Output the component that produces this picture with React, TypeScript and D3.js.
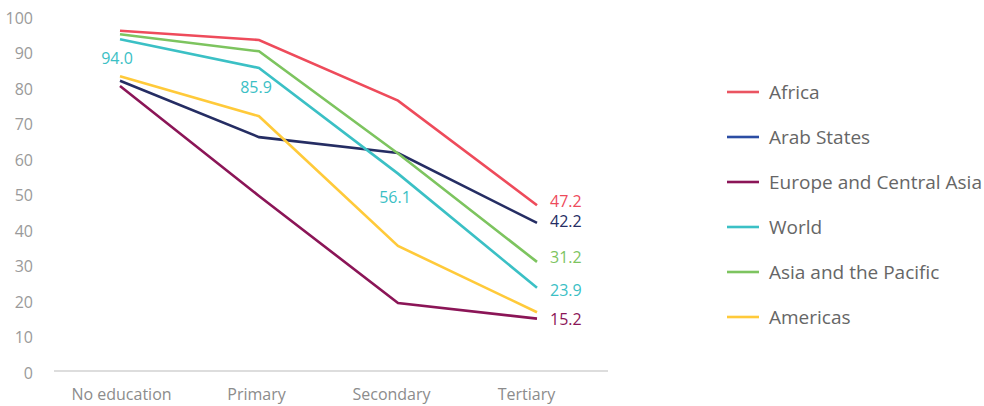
import React from "react";
import * as d3 from "d3";

// Education levels along the x axis
const levels = ["No education", "Primary", "Secondary", "Tertiary"];

// Share (%) per region at each education level
const africa = [96.4, 93.8, 76.7, 47.2];
const arabStates = [82.3, 66.4, 61.9, 42.2];
const europeCentralAsia = [80.8, 49.8, 19.6, 15.2];
const world = [94.0, 85.9, 56.1, 23.9];
const asiaPacific = [95.4, 90.6, 61.8, 31.2];
const americas = [83.6, 72.3, 35.7, 17.0];

const yTicks = [0, 10, 20, 30, 40, 50, 60, 70, 80, 90, 100];

type Series = {
  name: string;
  values: number[];
  line: string;
  legend: string;
  endLabel: boolean;
  endNudge: number;
};

const series: Series[] = [
  { name: "Africa", values: africa, line: "#EE4B5B", legend: "#EA5461", endLabel: true, endNudge: -4.5 },
  { name: "Arab States", values: arabStates, line: "#252D63", legend: "#2B4DA3", endLabel: true, endNudge: -1.5 },
  { name: "Europe and Central Asia", values: europeCentralAsia, line: "#8B1557", legend: "#8B1557", endLabel: true, endNudge: 0 },
  { name: "World", values: world, line: "#3BC0C5", legend: "#3BC0C5", endLabel: true, endNudge: 2 },
  { name: "Asia and the Pacific", values: asiaPacific, line: "#7DC45F", legend: "#7DC45F", endLabel: true, endNudge: -5 },
  { name: "Americas", values: americas, line: "#FFCA3A", legend: "#FFCA3A", endLabel: false, endNudge: 0 },
];

const W = 984;
const H = 406;
const FONT = "'Open Sans', 'Noto Sans', sans-serif";

export default function App() {
  const y = d3.scaleLinear().domain([0, 100]).range([372.5, 18]);
  const x = d3.scalePoint<string>().domain(levels).range([120, 537]);
  const xLabel = d3.scaleBand<string>().domain(levels).range([54, 594]);

  const line = d3
    .line<number>()
    .x((_, i) => x(levels[i]) as number)
    .y((v) => y(v));

  const worldSeries = series.find((s) => s.name === "World")!;

  return (
    <div style={{ position: "fixed", left: 0, top: 0, width: W, height: H, background: "#fff" }}>
      <svg width={W} height={H} style={{ display: "block", fontFamily: FONT }}>
        {/* y tick labels */}
        {yTicks.map((t) => (
          <text
            key={t}
            x={33}
            y={y(t)}
            textAnchor="end"
            dominantBaseline="central"
            fontSize={16}
            fill="#9a9a9a"
          >
            {t}
          </text>
        ))}

        {/* baseline */}
        <line x1={54} x2={608} y1={371} y2={371} stroke="#d2d2d2" strokeWidth={1.6} />

        {/* category labels */}
        {levels.map((c) => (
          <text
            key={c}
            x={(xLabel(c) as number) + xLabel.bandwidth() / 2}
            y={394}
            textAnchor="middle"
            dominantBaseline="central"
            fontSize={16}
            fill="#8c8c8c"
          >
            {c}
          </text>
        ))}

        {/* series lines */}
        {series.map((s) => (
          <path
            key={s.name}
            d={line(s.values) as string}
            fill="none"
            stroke={s.line}
            strokeWidth={2.6}
            strokeLinejoin="miter"
          />
        ))}

        {/* World labels at the first three levels */}
        {worldSeries.values.slice(0, 3).map((v, i) => (
          <text
            key={i}
            x={(x(levels[i]) as number) - 3}
            y={y(v) + (i === 2 ? 23 : 19)}
            textAnchor="middle"
            dominantBaseline="central"
            fontSize={16}
            fill={worldSeries.line}
          >
            {v.toFixed(1)}
          </text>
        ))}

        {/* end-of-line labels */}
        {series
          .filter((s) => s.endLabel)
          .map((s) => {
            const v = s.values[s.values.length - 1];
            return (
              <text
                key={s.name}
                x={(x(levels[levels.length - 1]) as number) + 13}
                y={y(v) + s.endNudge}
                dominantBaseline="central"
                fontSize={16}
                fill={s.line}
              >
                {v.toFixed(1)}
              </text>
            );
          })}

        {/* legend */}
        {series.map((s, i) => {
          const ly = 92 + i * 45;
          return (
            <g key={s.name}>
              <line x1={727} x2={759} y1={ly} y2={ly} stroke={s.legend} strokeWidth={2.6} />
              <text x={769} y={ly} dominantBaseline="central" fontSize={19} fill="#666">
                {s.name}
              </text>
            </g>
          );
        })}
      </svg>
    </div>
  );
}
